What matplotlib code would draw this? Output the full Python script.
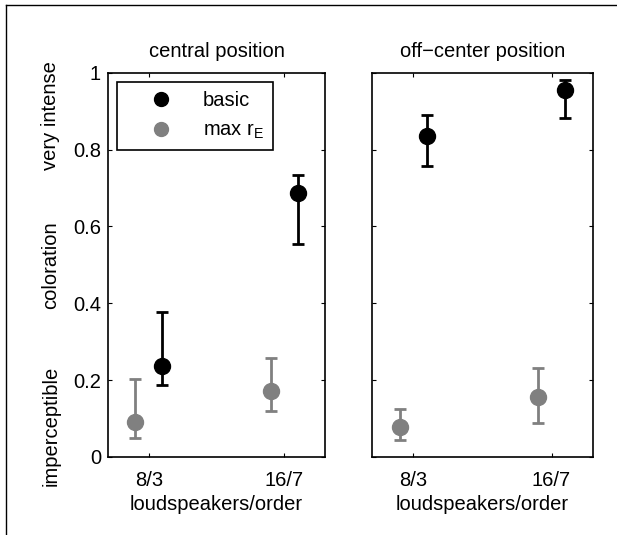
import matplotlib
matplotlib.use('Agg')
import matplotlib.pyplot as plt
import matplotlib.transforms as mtransforms
from matplotlib.lines import Line2D

plt.rcParams['font.family'] = ['Liberation Sans', 'DejaVu Sans']
plt.rcParams['mathtext.fontset'] = 'custom'
plt.rcParams['mathtext.rm'] = 'Liberation Sans'

# data
categories = ['8/3', '16/7']
panels = ['central position', 'off\u2212center position']

# central position
basic_c = [0.236, 0.686]
basic_c_lo = [0.187, 0.554]
basic_c_hi = [0.376, 0.733]
maxre_c = [0.091, 0.172]
maxre_c_lo = [0.049, 0.120]
maxre_c_hi = [0.202, 0.258]

# off-center position
basic_o = [0.836, 0.956]
basic_o_lo = [0.756, 0.883]
basic_o_hi = [0.889, 0.980]
maxre_o = [0.078, 0.157]
maxre_o_lo = [0.043, 0.089]
maxre_o_hi = [0.124, 0.231]

scale_labels = ['imperceptible', 'coloration', 'very intense']
scale_pos = [0.08, 0.5, 0.888]

gray = '#808080'
fs = 14.5

fig = plt.figure(figsize=(6.17, 5.35), dpi=100)
ax1 = fig.add_axes([0.175, 0.146, 0.352, 0.718])
ax2 = fig.add_axes([0.603, 0.146, 0.358, 0.718])

# frame around the figure (only left and top edges are visible)
fig.add_artist(Line2D([0.010, 0.010], [0, 0.990], color='black', lw=1, transform=fig.transFigure))
fig.add_artist(Line2D([0.010, 1.0], [0.990, 0.990], color='black', lw=1, transform=fig.transFigure))

def draw(ax, b, blo, bhi, m, mlo, mhi, title):
    x = [1, 2]
    xb = [v + 0.1 for v in x]
    xm = [v - 0.1 for v in x]
    ax.errorbar(xb, b, yerr=[[b[i] - blo[i] for i in range(2)], [bhi[i] - b[i] for i in range(2)]],
                fmt='o', color='black', ms=11.5, elinewidth=2, capsize=4.3, capthick=2)
    ax.errorbar(xm, m, yerr=[[m[i] - mlo[i] for i in range(2)], [mhi[i] - m[i] for i in range(2)]],
                fmt='o', color=gray, ms=11.5, elinewidth=2, capsize=4.3, capthick=2)
    ax.set_xlim(0.7, 2.3)
    ax.set_ylim(0, 1)
    ax.set_xticks(x)
    ax.set_xticklabels(categories, fontsize=fs)
    ax.set_yticks([0, 0.2, 0.4, 0.6, 0.8, 1])
    ax.set_yticklabels(['0', '0.2', '0.4', '0.6', '0.8', '1'], fontsize=fs)
    ax.tick_params(direction='in', top=True, right=True, length=3, width=0.8, pad=5)
    ax.tick_params(axis='x', pad=10)
    ax.set_xlabel('loudspeakers/order', fontsize=fs, labelpad=4)
    ax.set_title(title, fontsize=fs, pad=11)
    for s in ax.spines.values():
        s.set_linewidth(1.2)

draw(ax1, basic_c, basic_c_lo, basic_c_hi, maxre_c, maxre_c_lo, maxre_c_hi, panels[0])
draw(ax2, basic_o, basic_o_lo, basic_o_hi, maxre_o, maxre_o_lo, maxre_o_hi, panels[1])
ax2.set_yticklabels([])

trans = mtransforms.blended_transform_factory(ax1.transAxes, ax1.transData)
for lab, pos in zip(scale_labels, scale_pos):
    ax1.text(-0.263, pos, lab, rotation=90, ha='center', va='center', fontsize=fs,
             transform=trans, clip_on=False)

handles = [Line2D([], [], marker='o', ls='none', color='black', ms=10),
           Line2D([], [], marker='o', ls='none', color=gray, ms=10)]
leg = ax1.legend(handles, ['basic', 'max r$_{\\mathrm{E}}$'], loc='upper left', fontsize=fs,
                 fancybox=False, edgecolor='black', framealpha=1,
                 borderaxespad=0.45, handlelength=3.5, handletextpad=0.3,
                 borderpad=0.45, labelspacing=0.55)
leg.get_frame().set_linewidth(1.2)

plt.savefig('out.png', dpi=100)
